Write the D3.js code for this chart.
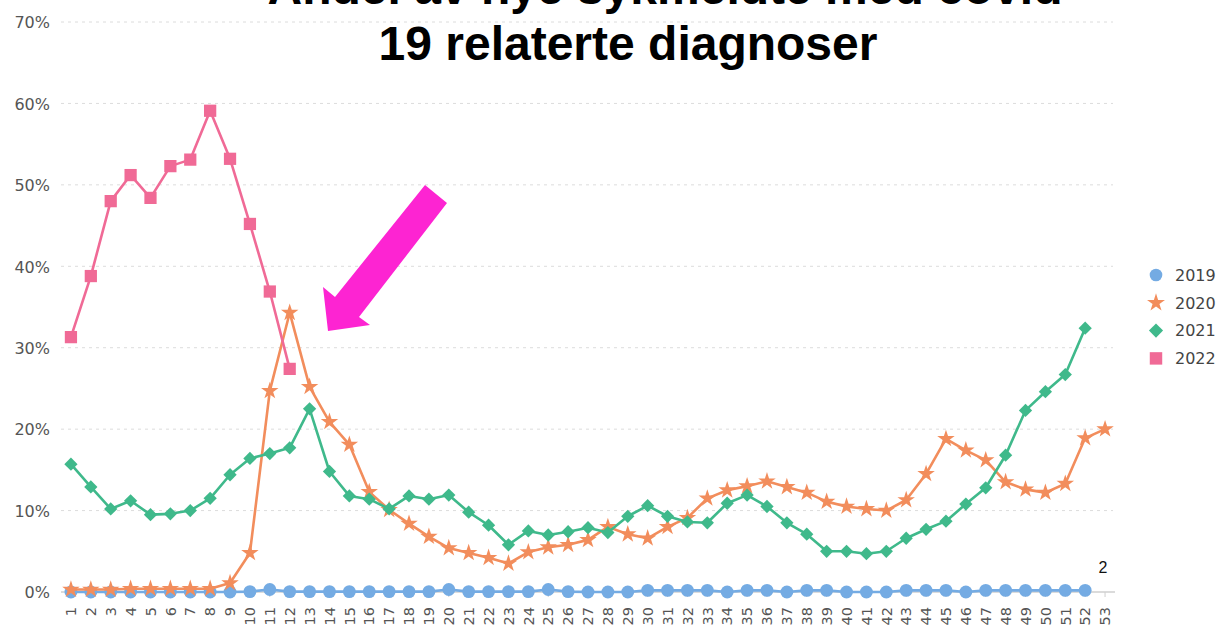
<!DOCTYPE html>
<html>
<head>
<meta charset="utf-8">
<script src="https://cdn.jsdelivr.net/npm/d3@7"></script>
<style>
  html, body { margin: 0; padding: 0; background: #fff; }
  svg { display: block; }
</style>
</head>
<body>
<svg id="chart" width="1229" height="634"></svg>
<script>
// ---------- DATA ----------
const weeks = d3.range(1, 54).map(String);            // "1".."53"
const yTicks = [0, 10, 20, 30, 40, 50, 60, 70];
const seriesNames = ["2019", "2020", "2021", "2022"];

const values2019 = [0,0,0,0,0,0,0,0,0,0.05, 0.3,0.05,0.05,0.05,0.05,0.05,0.05,0.05,0.05,0.3,
  0.05,0.05,0.05,0.05,0.3,0.05,0,0,0,0.2, 0.2,0.2,0.2,0,0.2,0.2,0,0.2,0.2,0,
  0,0,0.2,0.2,0.2,0,0.2,0.2,0.2,0.2, 0.2,0.2];

const values2020 = [0.3,0.3,0.3,0.4,0.4,0.4,0.4,0.4,1.1,4.8, 24.7,34.3,25.2,20.9,18.1,12.3,10.1,8.4,6.8,5.4,
  4.8,4.2,3.5,4.9,5.5,5.8,6.4,8.0,7.1,6.6, 8.0,9.1,11.5,12.5,13.0,13.6,12.9,12.2,11.1,10.5,
  10.2,10.0,11.3,14.5,18.8,17.4,16.2,13.5,12.6,12.2, 13.3,18.9,20.0];

const values2021 = [15.7,12.9,10.2,11.2,9.5,9.6,10.0,11.5,14.4,16.4, 17.0,17.7,22.5,14.8,11.8,11.4,10.2,11.8,11.4,11.9,
  9.8,8.2,5.8,7.5,7.0,7.4,7.9,7.3,9.3,10.6, 9.3,8.6,8.5,10.9,11.9,10.5,8.5,7.1,5.0,5.0,
  4.7,5.0,6.6,7.7,8.7,10.8,12.8,16.8,22.3,24.6, 26.7,32.4];

const values2022 = [31.3,38.8,48.0,51.2,48.4,52.3,53.1,59.1,53.2,45.2, 36.9,27.4];

const titleLines = ["Andel av nye sykmeldte med covid", "19 relaterte diagnoser"];
const strayLabel = "2";

// ---------- STYLE ----------
const colors = { "2019": "#74abe3", "2020": "#f28d5c", "2021": "#3fb98b", "2022": "#f06a96" };
const symbolFor = {
  "2019": { type: d3.symbolCircle, size: 130, rot: 0 },
  "2020": { type: d3.symbolStar, size: 95, rot: 0 },
  "2021": { type: d3.symbolSquare, size: 88, rot: 45 },
  "2022": { type: d3.symbolSquare, size: 150, rot: 0 }
};
const seriesValues = { "2019": values2019, "2020": values2020, "2021": values2021, "2022": values2022 };

const svg = d3.select("#chart");
const plot = { left: 61, right: 1115, top: 22, bottom: 592 };

const x = d3.scaleBand().domain(weeks).range([plot.left, plot.right]).padding(0);
const y = d3.scaleLinear().domain([0, 70]).range([plot.bottom, plot.top]);
const cx = w => x(w) + x.bandwidth() / 2;

// gridlines
svg.append("g")
  .selectAll("line")
  .data(yTicks.filter(t => t > 0))
  .join("line")
  .attr("x1", plot.left).attr("x2", plot.right - 2)
  .attr("y1", d => y(d)).attr("y2", d => y(d))
  .attr("stroke", "#dcdcdc").attr("stroke-width", 1)
  .attr("stroke-dasharray", "3,4");

// y axis labels
const yAxis = d3.axisLeft(y).tickValues(yTicks).tickFormat(d => d + "%").tickSize(0).tickPadding(0);
const gy = svg.append("g").attr("transform", `translate(50,0)`).call(yAxis);
gy.select(".domain").remove();
gy.selectAll("text")
  .attr("fill", "#555")
  .style("font-family", "'DejaVu Sans', sans-serif")
  .style("font-size", "16px")
  .attr("dy", "0.36em");

// x axis
const xAxis = d3.axisBottom(x).tickSize(5).tickPadding(0);
const gx = svg.append("g").attr("transform", `translate(0,${plot.bottom})`).call(xAxis);
gx.select(".domain").attr("stroke", "#cfcfcf").attr("stroke-width", 1.5).attr("d", `M${plot.left},0H${plot.right}`);
gx.selectAll(".tick line").attr("stroke", "#cfcfcf");
gx.selectAll("text")
  .attr("fill", "#555")
  .style("font-family", "'DejaVu Sans', sans-serif")
  .style("font-size", "14.5px")
  .attr("text-anchor", "end")
  .attr("transform", "translate(0,15) rotate(-90)")
  .attr("x", 0).attr("y", 0)
  .attr("dy", "0.36em");

// lines and markers
const line = d3.line().x((d, i) => cx(weeks[i])).y(d => y(d));
seriesNames.forEach(name => {
  const vals = seriesValues[name];
  const g = svg.append("g");
  g.append("path")
    .datum(vals)
    .attr("d", line)
    .attr("fill", "none")
    .attr("stroke", colors[name])
    .attr("stroke-width", 2.6)
    .attr("stroke-linejoin", "round");
  const s = symbolFor[name];
  g.selectAll("path.m")
    .data(vals)
    .join("path")
    .attr("class", "m")
    .attr("d", d3.symbol().type(s.type).size(s.size))
    .attr("transform", (d, i) => `translate(${cx(weeks[i])},${y(d)}) rotate(${s.rot})`)
    .attr("fill", colors[name]);
});

// legend
const legendSizes = { "2019": 125, "2020": 100, "2021": 100, "2022": 155 };
const legend = svg.append("g");
seriesNames.forEach((name, i) => {
  const ly = 275 + i * 27.8;
  const s = symbolFor[name];
  legend.append("path")
    .attr("d", d3.symbol().type(s.type).size(legendSizes[name]))
    .attr("transform", `translate(1156,${ly}) rotate(${s.rot})`)
    .attr("fill", colors[name]);
  legend.append("text")
    .attr("x", 1175).attr("y", ly)
    .attr("dy", "0.36em")
    .attr("fill", "#444")
    .style("font-family", "'DejaVu Sans', sans-serif")
    .style("font-size", "16px")
    .text(name);
});

// stray label
svg.append("text")
  .attr("x", 1103).attr("y", 573)
  .attr("text-anchor", "middle")
  .attr("fill", "#111")
  .style("font-family", "'Liberation Sans', Arial, sans-serif")
  .style("font-size", "16px")
  .text(strayLabel);

// magenta annotation arrow
svg.append("path")
  .attr("d", "M425,185 L447,203 L359,317 L370,325 L328,331 L323,287 L335,297 Z")
  .attr("fill", "#fd24d2");

// title (first line is partly cut off at the top edge, as in the reference)
const titleCenters = [665, 628];
const titleBaselines = [4, 60];
titleLines.forEach((t, i) => {
  svg.append("text")
    .attr("x", titleCenters[i]).attr("y", titleBaselines[i])
    .attr("text-anchor", "middle")
    .attr("fill", "#000")
    .style("font-family", "'Liberation Sans', Arial, sans-serif")
    .style("font-weight", "bold")
    .style("font-size", "48px")
    .text(t);
});
</script>
</body>
</html>
